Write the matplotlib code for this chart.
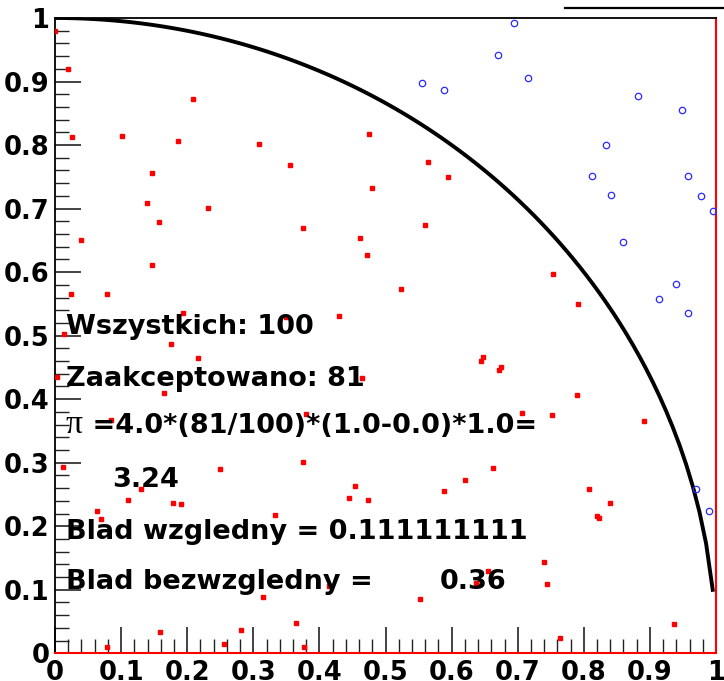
import numpy as np
import matplotlib
matplotlib.use("Agg")
import matplotlib.pyplot as plt
from matplotlib.ticker import MultipleLocator
from matplotlib.lines import Line2D

# punkty zaakceptowane (pod krzywa)
acc_x = [0.000, 0.019, 0.025, 0.101, 0.209, 0.186, 0.309, 0.356, 0.147, 0.139,
         0.232, 0.157, 0.475, 0.565, 0.595, 0.479, 0.375, 0.560, 0.039, 0.147,
         0.024, 0.079, 0.193, 0.350, 0.013, 0.175, 0.216, 0.003, 0.165, 0.084,
         0.461, 0.472, 0.523, 0.429, 0.647, 0.644, 0.674, 0.671, 0.464, 0.707,
         0.379, 0.754, 0.791, 0.789, 0.752, 0.891, 0.012, 0.249, 0.130, 0.110,
         0.178, 0.190, 0.063, 0.070, 0.333, 0.315, 0.159, 0.281, 0.079, 0.255,
         0.375, 0.454, 0.444, 0.473, 0.588, 0.620, 0.662, 0.552, 0.637, 0.365,
         0.376, 0.415, 0.655, 0.808, 0.840, 0.820, 0.823, 0.739, 0.744, 0.764,
         0.937]
acc_y = [0.980, 0.920, 0.813, 0.814, 0.872, 0.806, 0.801, 0.768, 0.756, 0.709,
         0.701, 0.679, 0.817, 0.773, 0.749, 0.732, 0.669, 0.674, 0.651, 0.611,
         0.566, 0.566, 0.535, 0.529, 0.503, 0.487, 0.465, 0.435, 0.409, 0.367,
         0.654, 0.627, 0.573, 0.531, 0.467, 0.460, 0.450, 0.446, 0.434, 0.379,
         0.376, 0.597, 0.550, 0.407, 0.375, 0.366, 0.294, 0.290, 0.258, 0.241,
         0.237, 0.235, 0.224, 0.211, 0.218, 0.088, 0.034, 0.037, 0.010, 0.014,
         0.301, 0.264, 0.245, 0.241, 0.255, 0.272, 0.291, 0.085, 0.110, 0.048,
         0.010, 0.106, 0.130, 0.259, 0.237, 0.216, 0.213, 0.143, 0.109, 0.024,
         0.046]

# punkty odrzucone (nad krzywa)
rej_x = [0.695, 0.670, 0.715, 0.555, 0.588, 0.882, 0.949, 0.834, 0.813, 0.957,
         0.841, 0.977, 0.996, 0.860, 0.939, 0.914, 0.958, 0.969, 0.990]
rej_y = [0.992, 0.942, 0.906, 0.897, 0.886, 0.877, 0.855, 0.800, 0.751, 0.752,
         0.722, 0.720, 0.696, 0.647, 0.582, 0.557, 0.535, 0.258, 0.224]

tick_vals = [0, 0.1, 0.2, 0.3, 0.4, 0.5, 0.6, 0.7, 0.8, 0.9, 1]
tick_labels = ["0", "0.1", "0.2", "0.3", "0.4", "0.5", "0.6", "0.7", "0.8", "0.9", "1"]

# krzywa y = sqrt(1 - x^2)
curve_x_max = 0.995
cx = np.linspace(0, curve_x_max, 100)
cy = np.sqrt(1 - cx ** 2)

fig = plt.figure(figsize=(7.24, 6.81), dpi=100)
ax = fig.add_axes([0.076, 0.0407, 0.913, 0.9329])
ax.set_xlim(0, 1)
ax.set_ylim(0, 1)

ax.plot(cx, cy, color="black", lw=2.8, zorder=2)
ax.plot(acc_x, acc_y, ls="none", marker="s", ms=3.4, color="red", zorder=3)
ax.plot(rej_x, rej_y, ls="none", marker="o", ms=4.6, mfc="none", mec="#2a2aff",
        mew=0.9, zorder=3)

for s in ["left", "top"]:
    ax.spines[s].set_color("black")
    ax.spines[s].set_linewidth(1.3)
for s in ["right", "bottom"]:
    ax.spines[s].set_color("red")
    ax.spines[s].set_linewidth(1.5)

ax.set_xticks(tick_vals)
ax.set_xticklabels(tick_labels)
ax.set_yticks(tick_vals)
ax.set_yticklabels(tick_labels)
ax.xaxis.set_minor_locator(MultipleLocator(0.02))
ax.yaxis.set_minor_locator(MultipleLocator(0.02))
ax.tick_params(which="major", direction="in", length=19, width=1.2,
               top=False, right=False, labelsize=18.5, color="#222222")
ax.tick_params(which="minor", direction="in", length=10, width=1.0,
               top=False, right=False, color="#222222")
ax.tick_params(axis="y", pad=4)
ax.tick_params(axis="x", pad=5)
for lab in ax.get_xticklabels() + ax.get_yticklabels():
    lab.set_fontweight("bold")

txt = dict(family="DejaVu Sans", weight="bold", size=19.5, va="baseline", zorder=5)
ax.text(0.017, 0.503, "Wszystkich: 100", **txt)
ax.text(0.017, 0.420, "Zaakceptowano: 81", **txt)
ax.text(0.016, 0.347, "π", family="Liberation Serif", size=24, va="baseline", zorder=5)
ax.text(0.042, 0.347, " =4.0*(81/100)*(1.0-0.0)*1.0=", **txt)
ax.text(0.087, 0.261, "3.24", **txt)
ax.text(0.017, 0.180, "Blad wzgledny = 0.111111111", **txt)
ax.text(0.017, 0.101, "Blad bezwzgledny =", **txt)
ax.text(0.582, 0.101, "0.36", **txt)

# fragment ramki tytulu u gory
fig.add_artist(Line2D([0.780, 1.0], [0.988, 0.988], color="black", lw=1.6))

fig.savefig("out.png", dpi=100)
